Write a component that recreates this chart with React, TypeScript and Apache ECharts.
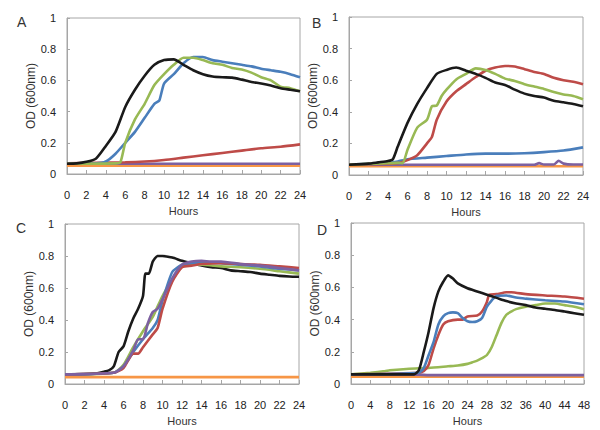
import React, { useEffect, useRef } from "react";
import * as echarts from "echarts";

type P = [number, number][];

// Panel A
const A_black: P = [[0,0.066],[1,0.068],[2,0.078],[3,0.1],[4,0.18],[5,0.27],[6,0.43],[7,0.54],[8,0.63],[9,0.7],[10,0.73],[11,0.735],[12,0.7],[13,0.665],[14,0.64],[15,0.625],[16,0.62],[17,0.618],[18,0.605],[19,0.59],[20,0.58],[21,0.567],[22,0.55],[23,0.54],[24,0.53]];
const A_blue: P = [[0,0.066],[3,0.068],[4,0.08],[5,0.13],[6,0.2],[7,0.27],[8,0.36],[9,0.45],[9.5,0.47],[10,0.58],[11,0.64],[12,0.71],[13,0.75],[14,0.75],[15,0.73],[16,0.72],[17,0.71],[18,0.7],[19,0.69],[20,0.675],[21,0.665],[22,0.655],[23,0.64],[24,0.62]];
const A_green: P = [[0,0.066],[5,0.068],[5.5,0.075],[6,0.2],[7,0.35],[8,0.45],[9,0.57],[10,0.64],[11,0.7],[12,0.745],[13,0.745],[14,0.73],[15,0.71],[16,0.7],[17,0.68],[18,0.67],[19,0.65],[20,0.62],[21,0.6],[22,0.56],[23,0.55],[24,0.53]];
const A_red: P = [[0,0.068],[6,0.075],[8,0.08],[10,0.09],[12,0.105],[14,0.12],[16,0.135],[18,0.15],[20,0.165],[22,0.175],[24,0.19]];
const A_purple: P = [[0,0.066],[24,0.066]];
const A_orange: P = [[0,0.054],[24,0.054]];

// Panel B
const B_black: P = [[0,0.065],[2,0.072],[3,0.08],[4,0.088],[4.5,0.1],[5,0.18],[6,0.33],[7,0.45],[8,0.55],[9,0.64],[10,0.665],[11,0.68],[12,0.66],[13,0.64],[14,0.615],[15,0.585],[16,0.57],[17,0.54],[18,0.515],[19,0.5],[20,0.49],[21,0.47],[22,0.46],[23,0.45],[24,0.435]];
const B_green: P = [[0,0.065],[4,0.075],[5,0.077],[5.5,0.075],[6,0.16],[7,0.3],[8,0.35],[8.5,0.435],[9,0.44],[9.5,0.5],[10,0.54],[11,0.605],[12,0.64],[13,0.675],[14,0.665],[15,0.64],[16,0.61],[17,0.595],[18,0.575],[19,0.56],[20,0.545],[21,0.525],[22,0.51],[23,0.5],[24,0.48]];
const B_red: P = [[0,0.065],[5,0.075],[6,0.094],[7,0.125],[8,0.2],[8.5,0.24],[9,0.35],[10,0.465],[11,0.53],[12,0.575],[13,0.62],[14,0.66],[15,0.68],[16,0.69],[17,0.687],[18,0.67],[19,0.652],[20,0.64],[21,0.615],[22,0.6],[23,0.59],[24,0.575]];
const B_blue: P = [[0,0.065],[4,0.075],[5,0.085],[6,0.1],[8,0.11],[10,0.12],[12,0.13],[14,0.135],[16,0.135],[18,0.138],[20,0.145],[22,0.155],[24,0.175]];
const B_purple: P = [[0,0.065],[19,0.065],[19.5,0.075],[20,0.066],[21,0.066],[21.5,0.09],[22,0.072],[23,0.066],[24,0.066]];
const B_orange: P = [[0,0.055],[24,0.055]];

// Panel C
const C_black: P = [[0,0.06],[3,0.065],[4,0.077],[4.5,0.085],[5,0.11],[5.5,0.2],[6,0.235],[6.5,0.33],[7,0.41],[7.5,0.47],[8,0.55],[8.25,0.69],[8.6,0.69],[9,0.765],[9.5,0.8],[10,0.8],[11,0.79],[12,0.77],[13,0.755],[14,0.74],[15,0.73],[16,0.725],[17,0.71],[18,0.705],[19,0.7],[20,0.69],[21,0.683],[22,0.676],[23,0.672],[24,0.67]];
const C_red: P = [[0,0.06],[5,0.07],[6,0.1],[7,0.19],[7.5,0.19],[8,0.23],[9,0.31],[9.5,0.35],[10,0.47],[11,0.64],[12,0.73],[13,0.74],[14,0.75],[16,0.755],[18,0.75],[20,0.745],[22,0.735],[24,0.725]];
const C_blue: P = [[0,0.06],[5,0.07],[6,0.11],[7,0.2],[8,0.28],[9,0.35],[9.5,0.4],[10,0.52],[11,0.7],[12,0.745],[13,0.755],[14,0.76],[16,0.755],[18,0.745],[20,0.735],[22,0.72],[24,0.71]];
const C_green: P = [[0,0.06],[5,0.07],[6,0.12],[7,0.23],[8,0.33],[9,0.42],[10,0.55],[11,0.65],[12,0.735],[13,0.745],[14,0.745],[16,0.735],[18,0.73],[20,0.72],[22,0.705],[24,0.69]];
const C_purple: P = [[0,0.06],[5,0.07],[6,0.11],[7,0.21],[7.5,0.28],[8,0.28],[8.5,0.38],[9,0.45],[9.5,0.47],[10,0.53],[11,0.66],[12,0.745],[13,0.765],[14,0.77],[15,0.765],[16,0.765],[18,0.75],[20,0.74],[22,0.725],[24,0.71]];
const C_orange: P = [[0,0.043],[24,0.043]];

// Panel D
const D_black: P = [[0,0.06],[13,0.06],[14,0.087],[15,0.2],[16,0.325],[17,0.47],[18,0.575],[19,0.635],[20,0.675],[21,0.655],[22,0.625],[24,0.595],[26,0.575],[28,0.555],[30,0.535],[32,0.515],[34,0.5],[36,0.49],[38,0.475],[40,0.467],[42,0.46],[44,0.45],[46,0.44],[48,0.43]];
const D_blue: P = [[0,0.06],[14,0.07],[15,0.1],[16,0.18],[17,0.26],[18,0.37],[19,0.42],[20,0.44],[21,0.445],[22,0.44],[23,0.41],[24,0.39],[25,0.385],[26,0.39],[27,0.41],[28,0.48],[29,0.52],[30,0.548],[32,0.55],[34,0.537],[36,0.53],[40,0.52],[44,0.512],[48,0.495]];
const D_red: P = [[0,0.06],[14,0.07],[15,0.08],[16,0.12],[17,0.22],[18,0.305],[19,0.37],[20,0.39],[22,0.4],[23,0.4],[24,0.42],[26,0.425],[27,0.45],[28,0.51],[28.5,0.555],[30,0.558],[32,0.57],[33,0.57],[36,0.558],[40,0.55],[44,0.543],[48,0.53]];
const D_green: P = [[0,0.06],[4,0.07],[7,0.08],[8,0.085],[12,0.095],[16,0.1],[20,0.11],[22,0.115],[24,0.125],[25,0.135],[26,0.145],[27,0.16],[28,0.18],[29,0.23],[30,0.305],[31,0.38],[32,0.43],[33,0.45],[34,0.465],[36,0.48],[38,0.49],[40,0.5],[42,0.5],[44,0.49],[46,0.48],[48,0.465]];
const D_purple: P = [[0,0.058],[14,0.058],[16,0.055],[48,0.055]];
const D_orange: P = [[0,0.045],[48,0.045]];

const panelLabels = ["A", "B", "C", "D"];
const xMax = [24, 24, 24, 48];
const xInterval = [2, 2, 2, 4];

const COLORS = {
  black: "#1a1a1a",
  blue: "#4a7ebb",
  green: "#98b954",
  red: "#be4b48",
  purple: "#7d60a0",
  orange: "#f79646",
};

const panels: { color: string; data: P }[][] = [
  [
    { color: COLORS.orange, data: A_orange },
    { color: COLORS.purple, data: A_purple },
    { color: COLORS.red, data: A_red },
    { color: COLORS.blue, data: A_blue },
    { color: COLORS.green, data: A_green },
    { color: COLORS.black, data: A_black },
  ],
  [
    { color: COLORS.orange, data: B_orange },
    { color: COLORS.purple, data: B_purple },
    { color: COLORS.blue, data: B_blue },
    { color: COLORS.red, data: B_red },
    { color: COLORS.green, data: B_green },
    { color: COLORS.black, data: B_black },
  ],
  [
    { color: COLORS.orange, data: C_orange },
    { color: COLORS.black, data: C_black },
    { color: COLORS.green, data: C_green },
    { color: COLORS.blue, data: C_blue },
    { color: COLORS.red, data: C_red },
    { color: COLORS.purple, data: C_purple },
  ],
  [
    { color: COLORS.orange, data: D_orange },
    { color: COLORS.purple, data: D_purple },
    { color: COLORS.green, data: D_green },
    { color: COLORS.red, data: D_red },
    { color: COLORS.blue, data: D_blue },
    { color: COLORS.black, data: D_black },
  ],
];

const grids = [
  { left: 67, top: 18, width: 233, height: 156 },
  { left: 349, top: 17, width: 234, height: 158 },
  { left: 65, top: 224, width: 234, height: 160 },
  { left: 351, top: 223, width: 233, height: 161 },
];
const letterPos = [
  [17, 15],
  [312, 16],
  [16, 221],
  [317, 223],
];

const FONT = "Liberation Sans, Arial, sans-serif";
const AXIS_GREY = "#a6a6a6";

export default function App() {
  const ref = useRef<HTMLDivElement>(null);
  useEffect(() => {
    if (!ref.current) return;
    const chart = echarts.init(ref.current, undefined, { renderer: "svg" });
    const series: any[] = [];
    panels.forEach((list, i) => {
      list.forEach((s) => {
        series.push({
          type: "line",
          xAxisIndex: i,
          yAxisIndex: i,
          data: s.data,
          showSymbol: false,
          smooth: 0.2,
          lineStyle: { color: s.color, width: 2.6 },
          itemStyle: { color: s.color },
        });
      });
    });
    chart.setOption({
      animation: false,
      textStyle: { fontFamily: FONT },
      grid: grids.map((g) => ({
        ...g,
        show: true,
        borderColor: AXIS_GREY,
        borderWidth: 1,
        backgroundColor: "transparent",
        containLabel: false,
      })),
      xAxis: grids.map((_, i) => ({
        type: "value",
        gridIndex: i,
        min: 0,
        max: xMax[i],
        interval: xInterval[i],
        name: "Hours",
        nameLocation: "middle",
        nameGap: 31,
        nameTextStyle: { fontSize: 11, color: "#333", fontFamily: FONT },
        axisLine: { show: true, lineStyle: { color: AXIS_GREY } },
        axisTick: { show: true, inside: true, length: 4, lineStyle: { color: AXIS_GREY } },
        axisLabel: { fontSize: 11, color: "#222", margin: 15, fontFamily: FONT },
        splitLine: { show: false },
      })),
      yAxis: grids.map((_, i) => ({
        type: "value",
        gridIndex: i,
        min: 0,
        max: 1,
        interval: 0.2,
        name: "OD (600nm)",
        nameLocation: "middle",
        nameGap: 25,
        nameTextStyle: { fontSize: 12, color: "#333", fontFamily: FONT },
        axisLine: { show: true, lineStyle: { color: AXIS_GREY } },
        axisTick: { show: true, inside: true, length: 3, lineStyle: { color: AXIS_GREY } },
        axisLabel: { fontSize: 11, color: "#222", margin: 11, fontFamily: FONT },
        splitLine: { show: false },
      })),
      graphic: panelLabels.map((t, i) => ({
        type: "text",
        left: letterPos[i][0],
        top: letterPos[i][1],
        style: { text: t, fontSize: 14, fill: "#333", fontFamily: FONT },
      })),
      series,
    });
    return () => chart.dispose();
  }, []);
  return (
    <div
      ref={ref}
      style={{ position: "absolute", left: 0, top: 0, width: 600, height: 430 }}
    />
  );
}
